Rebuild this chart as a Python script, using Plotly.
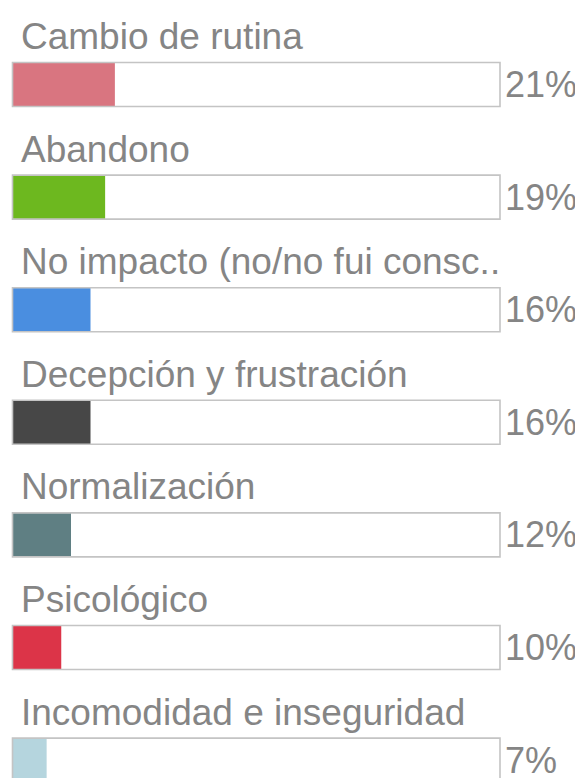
import plotly.graph_objects as go

categories = ["Cambio de rutina", "Abandono", "No impacto (no/no fui consc..",
              "Decepción y frustración", "Normalización", "Psicológico",
              "Incomodidad e inseguridad"]
values = [21, 19, 16, 16, 12, 10, 7]
value_labels = ["21%", "19%", "16%", "16%", "12%", "10%", "7%"]
colors = ["#d97580", "#6db81f", "#4a8ee0", "#474747", "#5f7f83", "#dc3448", "#b5d5de"]
full_scale = 100

# page has an 8px body margin, so the figure is 8px smaller and offset
OFF = 8
W, H = 583 - OFF, 778 - OFF
x0_px, x100_px = 12.5 - OFF, 500.0 - OFF
ppu = (x100_px - x0_px) / full_scale
xr = [-x0_px / ppu, (W - x0_px) / ppu]

c0, step = 84.5 - OFF, 112.6
yr = [(H - c0) / step, -c0 / step]
ypos = list(range(len(categories)))
bw = 44.0 / step

fig = go.Figure()
fig.add_trace(go.Bar(y=ypos, x=[full_scale] * len(ypos), orientation="h", width=bw,
                     marker=dict(color="white", line=dict(width=0)), hoverinfo="skip"))
fig.add_trace(go.Bar(y=ypos, x=values, orientation="h", width=bw,
                     marker=dict(color=colors, line=dict(width=0)),
                     hovertext=categories, hoverinfo="text+x"))
fig.add_trace(go.Bar(y=ypos, x=[full_scale] * len(ypos), orientation="h", width=bw,
                     marker=dict(color="rgba(0,0,0,0)", line=dict(width=1.6, color="#c4c4c4")),
                     hoverinfo="skip"))

font_family = "Liberation Sans, Arial, sans-serif"
text_color = "#858585"
for i, (cat, lab) in enumerate(zip(categories, value_labels)):
    fig.add_annotation(x=xr[0], y=i, xref="x", yref="y", text=cat, showarrow=False,
                       xanchor="left", yanchor="middle", xshift=20 - OFF - 1, yshift=48,
                       font=dict(family=font_family, size=37, color=text_color))
    fig.add_annotation(x=full_scale, y=i, xref="x", yref="y", text=lab, showarrow=False,
                       xanchor="left", yanchor="middle", xshift=3, yshift=0,
                       font=dict(family=font_family, size=36, color=text_color))

fig.update_layout(
    width=W, height=H, barmode="overlay", showlegend=False,
    margin=dict(l=0, r=0, t=0, b=0),
    paper_bgcolor="white", plot_bgcolor="white",
    xaxis=dict(range=xr, visible=False, fixedrange=True),
    yaxis=dict(range=yr, visible=False, fixedrange=True),
)
fig.write_html("out.html")
